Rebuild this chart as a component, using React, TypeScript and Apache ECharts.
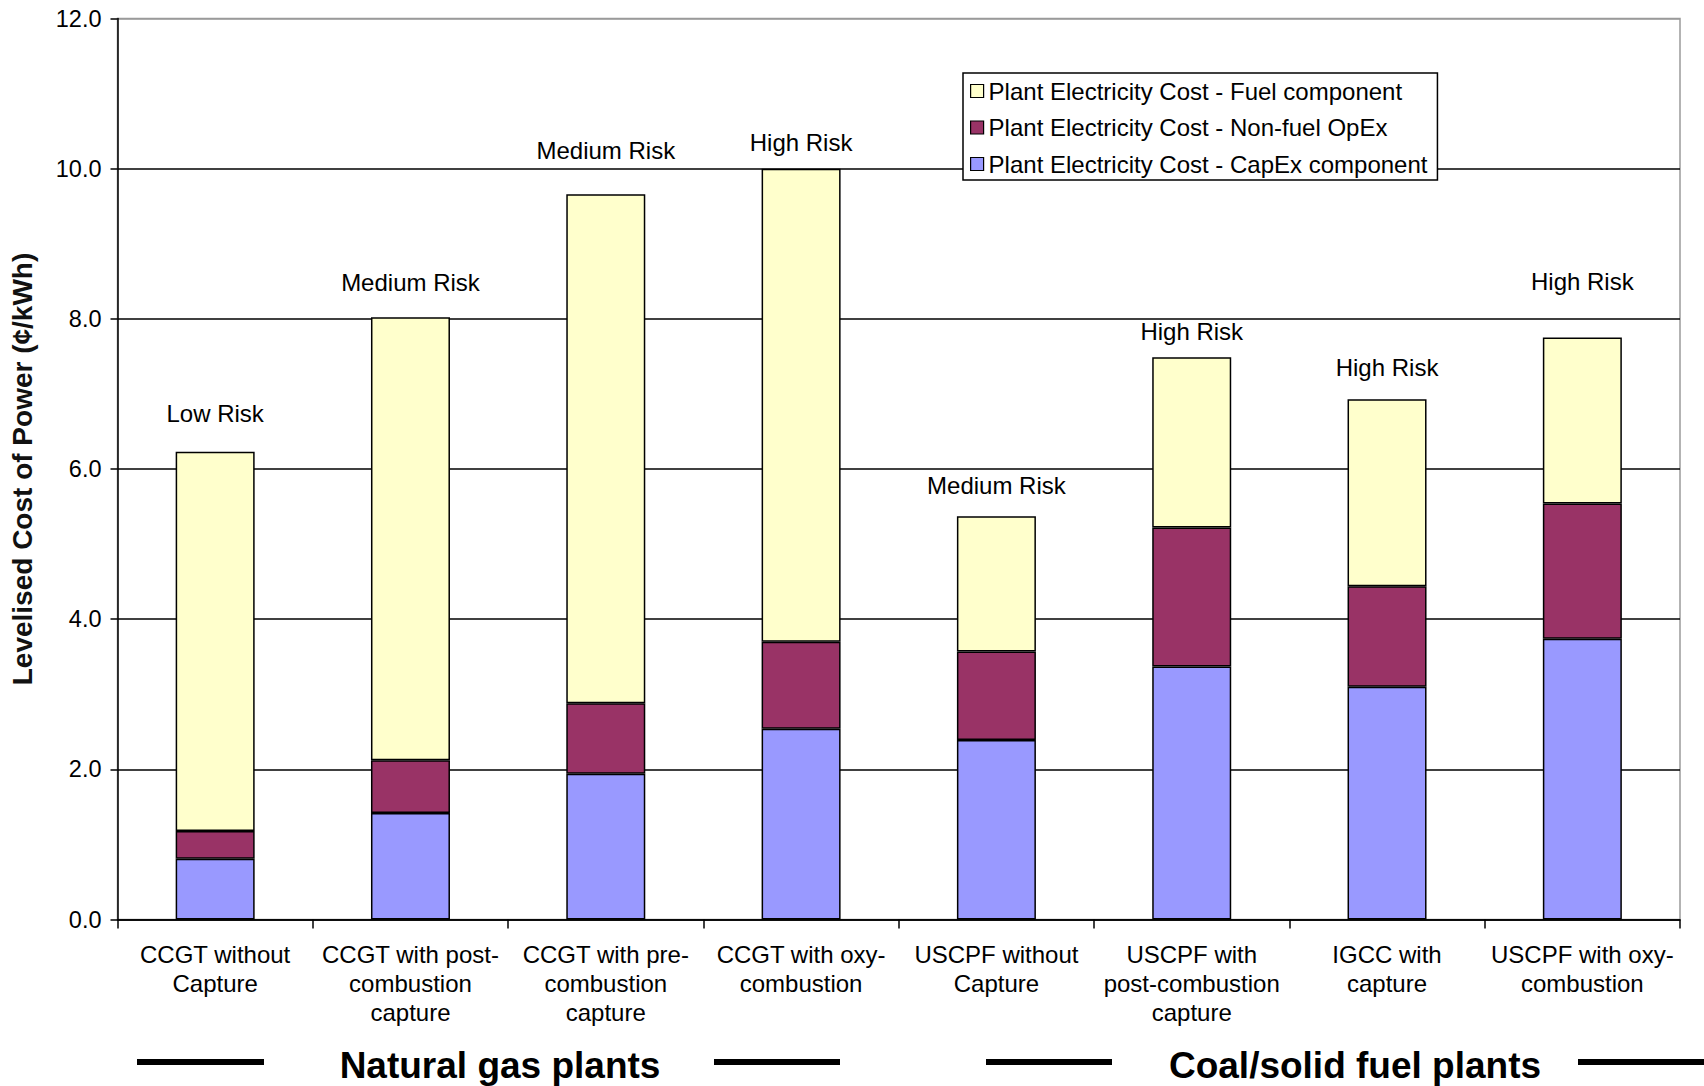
import React, { useEffect, useRef } from "react";
import * as echarts from "echarts";

const categories = [
  "CCGT without\nCapture",
  "CCGT with post-\ncombustion\ncapture",
  "CCGT with pre-\ncombustion\ncapture",
  "CCGT with oxy-\ncombustion",
  "USCPF without\nCapture",
  "USCPF with\npost-combustion\ncapture",
  "IGCC with\ncapture",
  "USCPF with oxy-\ncombustion",
];
const capexValues = [0.81, 1.42, 1.94, 2.54, 2.39, 3.37, 3.1, 3.74];
const opexValues = [0.37, 0.7, 0.94, 1.16, 1.18, 1.85, 1.34, 1.8];
const fuelValues = [5.05, 5.9, 6.78, 6.3, 1.8, 2.27, 2.49, 2.21];
const riskLabels = [
  "Low Risk",
  "Medium Risk",
  "Medium Risk",
  "High Risk",
  "Medium Risk",
  "High Risk",
  "High Risk",
  "High Risk",
];
const seriesNames = [
  "Plant Electricity Cost - CapEx component",
  "Plant Electricity Cost - Non-fuel OpEx",
  "Plant Electricity Cost - Fuel component",
];
const yAxisName = "Levelised Cost of Power (\u00a2/kWh)";
const yMin = 0;
const yMax = 12;
const yInterval = 2;
const groupLabels = ["Natural gas plants", "Coal/solid fuel plants"];

// styling / placement (not data)
const FONT = "'Liberation Sans', Arial, Helvetica, sans-serif";
const riskLabelLift = [26, 23, 32, 14, 19, 14, 20, 44];
const colors = ["#9999FF", "#993366", "#FFFFCC"];

export default function App() {
  const ref = useRef<HTMLDivElement>(null);

  useEffect(() => {
    if (!ref.current) return;
    const chart = echarts.init(ref.current, undefined, { renderer: "svg" });

    const barBase = {
      type: "bar" as const,
      stack: "total",
      barWidth: 79,
      itemStyle: { borderColor: "#000", borderWidth: 1.5 },
      emphasis: { disabled: true },
    };

    const option: any = {
      animation: false,
      backgroundColor: "#fff",
      textStyle: { fontFamily: FONT },
      grid: {
        left: 117.5,
        right: 24,
        top: 18.5,
        bottom: 166.5,
        containLabel: false,
        outerBoundsMode: "none",
        show: true,
        borderColor: "#9a9a9a",
        borderWidth: 1.5,
        backgroundColor: "transparent",
      },
      legend: {
        orient: "vertical",
        left: 963,
        top: 73,
        data: [seriesNames[2], seriesNames[1], seriesNames[0]],
        backgroundColor: "#fff",
        borderColor: "#000",
        borderWidth: 1.5,
        borderRadius: 0,
        padding: [6, 10, 4, 7],
        itemGap: 12.5,
        itemWidth: 13,
        itemHeight: 13,
        icon: "rect",
        itemStyle: { borderColor: "#000", borderWidth: 1.2 },
        textStyle: {
          fontFamily: FONT,
          fontSize: 24,
          lineHeight: 24,
          color: "#000",
        },
        selectedMode: false,
      },
      xAxis: {
        type: "category",
        data: categories,
        boundaryGap: true,
        axisLine: { show: true, lineStyle: { color: "#000", width: 1.5 } },
        axisTick: {
          show: true,
          length: 9,
          interval: 0,
          lineStyle: { color: "#000", width: 1.5 },
        },
        axisLabel: {
          interval: 0,
          margin: 20,
          fontFamily: FONT,
          fontSize: 24,
          lineHeight: 29.3,
          color: "#000",
          align: "center",
        },
        splitLine: { show: false },
      },
      yAxis: {
        type: "value",
        min: yMin,
        max: yMax,
        interval: yInterval,
        name: yAxisName,
        nameLocation: "middle",
        nameGap: 81,
        nameRotate: 90,
        nameTextStyle: {
          fontFamily: FONT,
          fontSize: 28,
          fontWeight: "bold",
          color: "#111",
        },
        axisLine: { show: true, lineStyle: { color: "#000", width: 1.5 } },
        axisTick: {
          show: true,
          inside: false,
          length: 7,
          lineStyle: { color: "#000", width: 1.5 },
        },
        axisLabel: {
          margin: 16,
          fontFamily: FONT,
          fontSize: 23.5,
          color: "#000",
          formatter: (v: number) => v.toFixed(1),
        },
        splitLine: {
          show: true,
          lineStyle: {
            color: ["#000", "#000", "#000", "#000", "#000", "#000", "#9a9a9a"],
            width: 1.5,
          },
        },
      },
      series: [
        {
          ...barBase,
          name: seriesNames[0],
          data: capexValues,
          itemStyle: { ...barBase.itemStyle, color: colors[0] },
        },
        {
          ...barBase,
          name: seriesNames[1],
          data: opexValues,
          itemStyle: { ...barBase.itemStyle, color: colors[1] },
        },
        {
          ...barBase,
          name: seriesNames[2],
          itemStyle: { ...barBase.itemStyle, color: colors[2] },
          data: fuelValues.map((v, i) => ({
            value: v,
            label: {
              show: true,
              position: "top",
              distance: riskLabelLift[i],
              formatter: riskLabels[i],
              fontFamily: FONT,
              fontSize: 24,
              color: "#000",
            },
          })),
        },
      ],
      graphic: [
        { type: "rect", shape: { x: 137, y: 1059, width: 127, height: 6 }, style: { fill: "#000" } },
        { type: "rect", shape: { x: 714, y: 1059, width: 126, height: 6 }, style: { fill: "#000" } },
        { type: "rect", shape: { x: 986, y: 1059, width: 126, height: 6 }, style: { fill: "#000" } },
        { type: "rect", shape: { x: 1578, y: 1059, width: 126, height: 6 }, style: { fill: "#000" } },
        {
          type: "text",
          x: 500,
          y: 1065,
          style: {
            text: groupLabels[0],
            font: `bold 37px ${FONT}`,
            fill: "#000",
            textAlign: "center",
            textVerticalAlign: "middle",
            align: "center",
            verticalAlign: "middle",
          },
        },
        {
          type: "text",
          x: 1355,
          y: 1065,
          style: {
            text: groupLabels[1],
            font: `bold 37px ${FONT}`,
            fill: "#000",
            textAlign: "center",
            textVerticalAlign: "middle",
            align: "center",
            verticalAlign: "middle",
          },
        },
      ],
    };

    chart.setOption(option);
    return () => chart.dispose();
  }, []);

  return (
    <div
      ref={ref}
      style={{ position: "fixed", left: 0, top: 0, width: 1704, height: 1086 }}
    />
  );
}
